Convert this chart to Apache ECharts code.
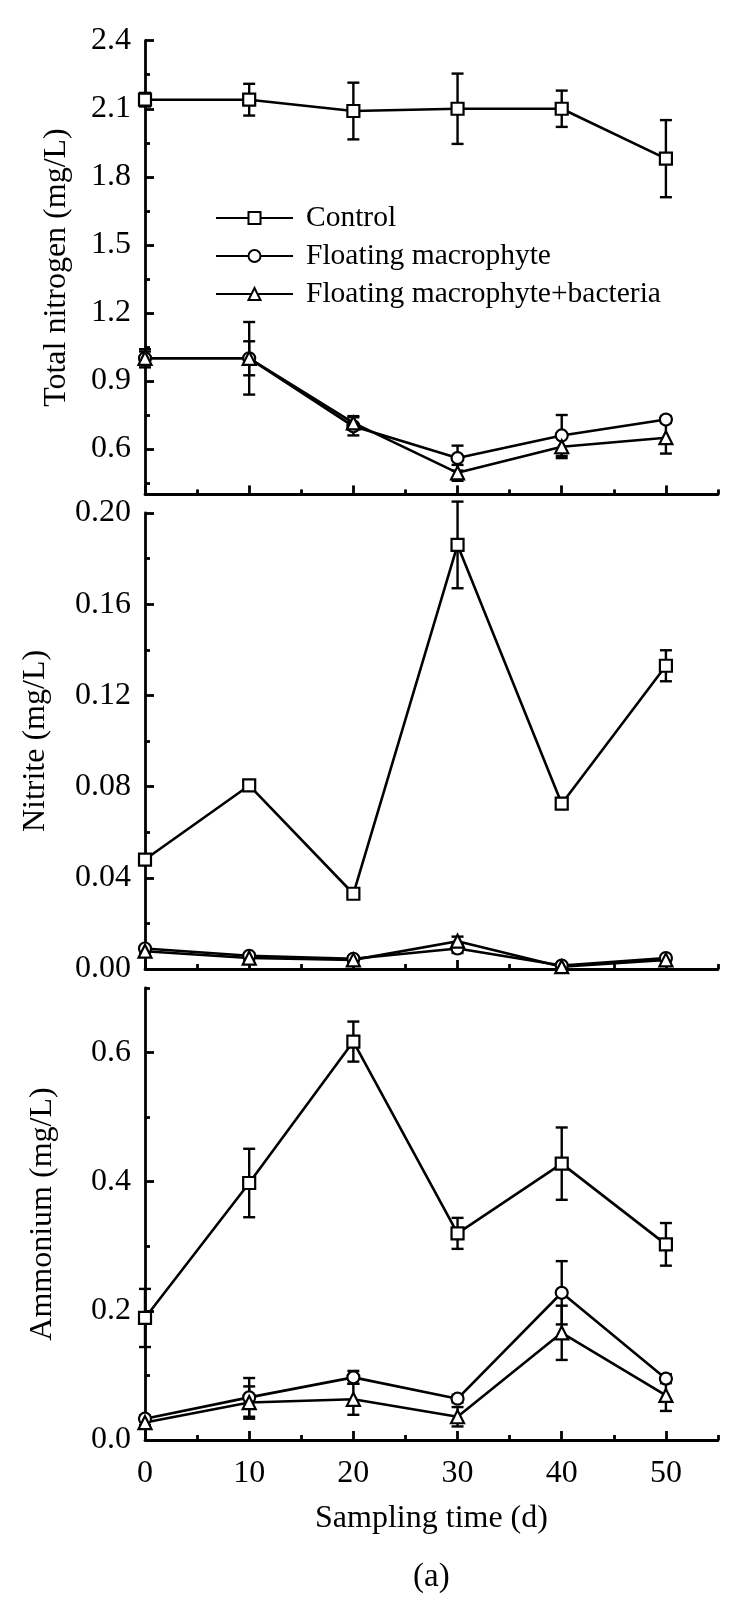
<!DOCTYPE html>
<html><head><meta charset="utf-8">
<script src="https://cdn.jsdelivr.net/npm/echarts@6/dist/echarts.min.js"></script>
<style>html,body{margin:0;padding:0;background:#fff}#c{width:750px;height:1600px}</style>
</head><body><div id="c"></div>
<script>
// ---------- data ----------
const days = [0, 10, 20, 30, 40, 50];
const seriesNames = ['Control', 'Floating macrophyte', 'Floating macrophyte+bacteria'];

const tnControl    = [2.14, 2.14, 2.09, 2.10, 2.10, 1.88];
const tnControlErr = [0.03, 0.07, 0.125, 0.155, 0.08, 0.17];
const tnFM         = [1.00, 1.00, 0.70, 0.56, 0.66, 0.73];
const tnFMErr      = [0.04, 0.16, 0.04, 0.055, 0.09, 0.015];
const tnFMB        = [1.00, 1.00, 0.715, 0.495, 0.61, 0.65];
const tnFMBErr     = [0.03, 0.075, 0.03, 0.035, 0.05, 0.07];

const nitControl    = [0.048, 0.0805, 0.033, 0.186, 0.0725, 0.133];
const nitControlErr = [0.0015, 0.001, 0.002, 0.019, 0.0015, 0.0068];
const nitFM         = [0.009, 0.0058, 0.0045, 0.009, 0.0015, 0.0048];
const nitFMErr      = [0.001, 0.001, 0.001, 0.002, 0.001, 0.001];
const nitFMB        = [0.0078, 0.0048, 0.004, 0.0122, 0.001, 0.004];
const nitFMBErr     = [0.001, 0.001, 0.001, 0.002, 0.001, 0.001];

const amControl    = [0.189, 0.398, 0.617, 0.320, 0.428, 0.303];
const amControlErr = [0.045, 0.053, 0.031, 0.024, 0.056, 0.033];
const amFM         = [0.033, 0.066, 0.097, 0.064, 0.228, 0.095];
const amFMErr      = [0.005, 0.03, 0.01, 0.006, 0.049, 0.007];
const amFMB        = [0.027, 0.058, 0.063, 0.036, 0.166, 0.069];
const amFMBErr     = [0.004, 0.025, 0.024, 0.015, 0.042, 0.024];

const xMajorTicks = [0, 10, 20, 30, 40, 50];
const xMinorTicks = [5, 15, 25, 35, 45, 55];
const tnMajorTicks = [0.6, 0.9, 1.2, 1.5, 1.8, 2.1, 2.4];
const tnMinorTicks = [0.45, 0.75, 1.05, 1.35, 1.65, 1.95, 2.25];
const nitMajorTicks = [0, 0.04, 0.08, 0.12, 0.16, 0.2];
const nitMinorTicks = [0.02, 0.06, 0.10, 0.14, 0.18];
const amMajorTicks = [0, 0.2, 0.4, 0.6];
const amMinorTicks = [0.1, 0.3, 0.5, 0.7];

const yTitles = ['Total nitrogen (mg/L)', 'Nitrite (mg/L)', 'Ammonium (mg/L)'];
const xTitle = 'Sampling time (d)';
const panelLabel = '(a)';

// ---------- layout / style ----------
const FONT = 'Liberation Serif';
const panels = [
  {grid: {left: 145, right: 32, top: 40.7, height: 453.7}, min: 0.4, max: 2.4, major: tnMajorTicks, minor: tnMinorTicks, dec: 1, nameGap: 72,
   vals: [tnControl, tnFM, tnFMB], errs: [tnControlErr, tnFMErr, tnFMBErr]},
  {grid: {left: 145, right: 32, top: 513, height: 456}, min: 0, max: 0.2, major: nitMajorTicks, minor: nitMinorTicks, dec: 2, nameGap: 93,
   vals: [nitControl, nitFM, nitFMB], errs: [nitControlErr, nitFMErr, nitFMBErr]},
  {grid: {left: 145, right: 32, top: 988, height: 452}, min: 0, max: 0.7, major: amMajorTicks, minor: amMinorTicks, dec: 1, nameGap: 86,
   vals: [amControl, amFM, amFMB], errs: [amControlErr, amFMErr, amFMBErr]}
];
const symbols = ['rect', 'circle', 'triangle'];
const symbolSizes = [12, 12, 13];

const axisLineStyle = {color: '#000', width: 2.8};
const textBase = {fontFamily: FONT, color: '#000'};

const grids = [], xAxes = [], yAxes = [], series = [];
panels.forEach((p, pi) => {
  grids.push(p.grid);
  const last = pi === panels.length - 1;
  xAxes.push({
    type: 'value', gridIndex: pi, min: 0, max: 55, position: 'bottom',
    axisLine: {show: true, onZero: false, lineStyle: axisLineStyle},
    axisTick: {show: true, inside: true, length: 9, customValues: xMajorTicks, lineStyle: axisLineStyle},
    axisLabel: {show: last, customValues: xMajorTicks, margin: 18, fontSize: 32, ...textBase},
    splitLine: {show: false},
    name: last ? xTitle : '', nameLocation: 'middle', nameGap: 63,
    nameTextStyle: {fontSize: 32, ...textBase}
  });
  xAxes.push({
    type: 'value', gridIndex: pi, min: 0, max: 55, position: 'bottom',
    axisLine: {show: false, onZero: false},
    axisTick: {show: true, inside: true, length: 5, customValues: xMinorTicks, lineStyle: axisLineStyle},
    axisLabel: {show: false}, splitLine: {show: false}
  });
  yAxes.push({
    type: 'value', gridIndex: pi, min: p.min, max: p.max, position: 'left',
    axisLine: {show: true, onZero: false, lineStyle: axisLineStyle},
    axisTick: {show: true, inside: true, length: 9, customValues: p.major, lineStyle: axisLineStyle},
    axisLabel: {show: true, customValues: p.major, margin: 14, fontSize: 32, ...textBase,
      formatter: v => Number(v).toFixed(p.dec)},
    splitLine: {show: false},
    name: yTitles[pi], nameLocation: 'middle', nameGap: p.nameGap,
    nameTextStyle: {fontSize: 32, ...textBase}
  });
  yAxes.push({
    type: 'value', gridIndex: pi, min: p.min, max: p.max, position: 'left',
    axisLine: {show: false, onZero: false},
    axisTick: {show: true, inside: true, length: 5, customValues: p.minor, lineStyle: axisLineStyle},
    axisLabel: {show: false}, splitLine: {show: false}
  });

  p.vals.forEach((vals, si) => {
    const errs = p.errs[si];
    series.push({
      type: 'custom', name: 'err' + pi + si, xAxisIndex: pi * 2, yAxisIndex: pi * 2,
      clip: false, z: 2, silent: true,
      data: days.map((d, i) => [d, vals[i] - errs[i], vals[i] + errs[i]]),
      renderItem: (params, api) => {
        const lo = api.coord([api.value(0), api.value(1)]);
        const hi = api.coord([api.value(0), api.value(2)]);
        const w = 6;
        const st = {stroke: '#000', lineWidth: 2.4};
        return {type: 'group', children: [
          {type: 'line', shape: {x1: lo[0], y1: lo[1], x2: hi[0], y2: hi[1]}, style: st},
          {type: 'line', shape: {x1: hi[0] - w, y1: hi[1], x2: hi[0] + w, y2: hi[1]}, style: st},
          {type: 'line', shape: {x1: lo[0] - w, y1: lo[1], x2: lo[0] + w, y2: lo[1]}, style: st}
        ]};
      }
    });
    series.push({
      type: 'line', name: seriesNames[si], xAxisIndex: pi * 2, yAxisIndex: pi * 2,
      data: days.map((d, i) => [d, vals[i]]),
      symbol: symbols[si], symbolSize: symbolSizes[si], showAllSymbol: true,
      itemStyle: {color: '#fff', borderColor: '#000', borderWidth: 2.2},
      lineStyle: {color: '#000', width: 2.6},
      z: 3, clip: false
    });
  });
});

const chart = echarts.init(document.getElementById('c'), null, {renderer: 'canvas'});
chart.setOption({
  animation: false,
  backgroundColor: '#fff',
  title: {text: panelLabel, left: 408, top: 1556, textStyle: {fontSize: 33, fontWeight: 'normal', ...textBase}},
  legend: {
    data: seriesNames, orient: 'vertical', left: 210, top: 198,
    itemWidth: 77, itemHeight: 15, itemGap: 8, selectedMode: false,
    textStyle: {fontSize: 29.5, lineHeight: 29.5, padding: [0, 0, 0, 8], ...textBase}
  },
  grid: grids, xAxis: xAxes, yAxis: yAxes, series: series
});
</script></body></html>
